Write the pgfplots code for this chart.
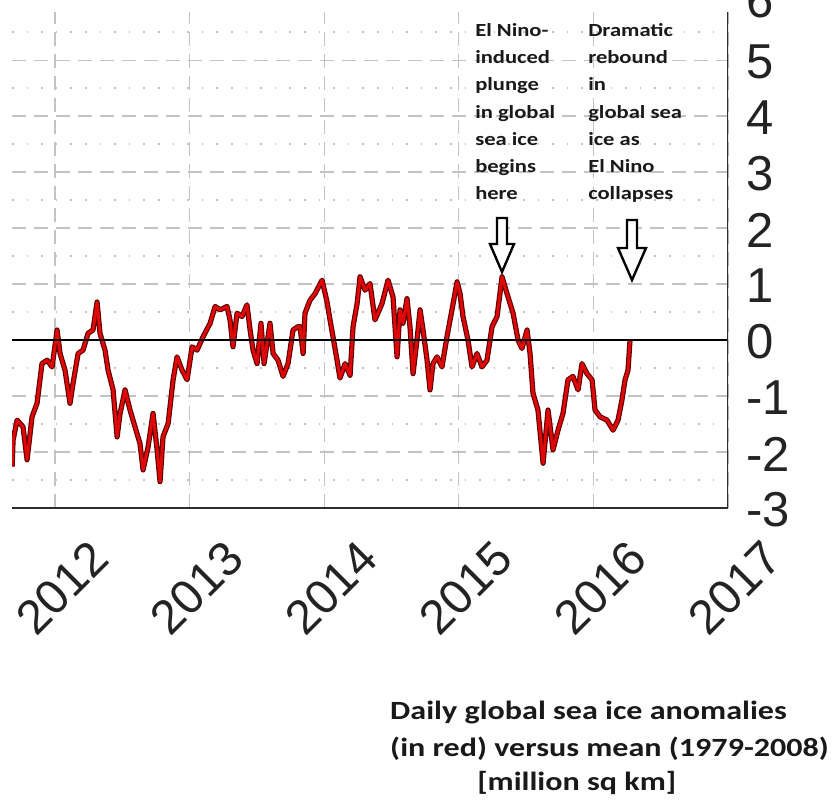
\documentclass[border=0pt]{standalone}
\usepackage{fontspec}
\setmainfont{Liberation Sans}
\newfontfamily\carlito{Carlito}
\usepackage{pgfplots}
\pgfplotsset{compat=1.18}
\usepackage{pgfplotstable}

\definecolor{icered}{RGB}{222,8,8}
\definecolor{iceedge}{RGB}{90,0,0}
\definecolor{gridgray}{RGB}{195,195,195}
\definecolor{framegray}{RGB}{45,45,45}
\definecolor{labelgray}{RGB}{35,35,35}

% daily global sea ice anomaly (million sq km)
\pgfplotstableread{
year anom
2011.681 -2.26
2011.688 -1.79
2011.718 -1.43
2011.762 -1.55
2011.792 -2.14
2011.829 -1.37
2011.866 -1.13
2011.903 -0.42
2011.941 -0.36
2011.978 -0.48
2012.015 0.18
2012.037 -0.24
2012.074 -0.54
2012.111 -1.13
2012.134 -0.77
2012.171 -0.24
2012.208 -0.18
2012.245 0.12
2012.282 0.18
2012.312 0.68
2012.334 0.12
2012.371 -0.18
2012.394 -0.54
2012.431 -0.89
2012.461 -1.73
2012.483 -1.31
2012.520 -0.89
2012.557 -1.25
2012.594 -1.55
2012.631 -1.85
2012.654 -2.32
2012.691 -1.91
2012.728 -1.31
2012.758 -1.96
2012.780 -2.53
2012.802 -1.73
2012.840 -1.49
2012.877 -0.71
2012.906 -0.30
2012.944 -0.54
2012.981 -0.71
2013.018 -0.12
2013.055 -0.18
2013.100 0.06
2013.152 0.30
2013.189 0.60
2013.226 0.54
2013.278 0.60
2013.300 0.36
2013.322 -0.12
2013.352 0.48
2013.389 0.42
2013.426 0.63
2013.449 0.18
2013.471 -0.18
2013.501 -0.42
2013.530 0.30
2013.553 -0.42
2013.597 0.30
2013.620 -0.24
2013.657 -0.36
2013.694 -0.65
2013.731 -0.42
2013.768 0.18
2013.805 0.24
2013.820 0.24
2013.843 -0.24
2013.857 0.48
2013.894 0.71
2013.932 0.83
2013.984 1.07
2014.021 0.68
2014.043 0.36
2014.065 0.06
2014.095 -0.36
2014.117 -0.68
2014.155 -0.42
2014.192 -0.63
2014.214 0.24
2014.244 0.65
2014.266 1.13
2014.303 0.89
2014.340 1.01
2014.377 0.36
2014.429 0.65
2014.474 1.07
2014.511 0.77
2014.541 -0.30
2014.563 0.54
2014.585 0.30
2014.615 0.74
2014.637 0.24
2014.660 -0.60
2014.689 0.00
2014.712 0.54
2014.734 0.18
2014.764 -0.36
2014.786 -0.89
2014.808 -0.42
2014.838 -0.30
2014.875 -0.48
2014.912 0.06
2014.949 0.54
2014.987 1.04
2015.009 0.83
2015.031 0.42
2015.068 0.00
2015.098 -0.48
2015.135 -0.24
2015.172 -0.48
2015.209 -0.36
2015.247 0.24
2015.284 0.42
2015.321 1.13
2015.358 0.83
2015.403 0.48
2015.440 0.00
2015.469 -0.15
2015.507 0.18
2015.529 -0.24
2015.551 -0.95
2015.588 -1.25
2015.626 -2.20
2015.663 -1.25
2015.700 -1.96
2015.737 -1.61
2015.774 -1.31
2015.811 -0.71
2015.848 -0.65
2015.886 -0.89
2015.915 -0.42
2015.952 -0.60
2015.990 -0.71
2016.012 -1.25
2016.049 -1.37
2016.101 -1.43
2016.146 -1.61
2016.183 -1.43
2016.212 -1.07
2016.235 -0.71
2016.257 -0.54
2016.272 0.00
}\seaice

\tikzset{
  note/.style={anchor=base west, inner sep=0pt, text=black!90,
    font=\carlito\bfseries\fontsize{18.5}{20}\selectfont, xscale=1.22},
  capt/.style={anchor=base west, inner sep=0pt, text=black!90,
    font=\carlito\bfseries\fontsize{26.3}{28}\selectfont, xscale=1.22},
  downarrow/.style={draw=black, line width=2.4pt, fill=white, line join=miter},
}

\begin{document}
\begin{tikzpicture}
\useasboundingbox (0pt,0pt) rectangle (832pt,-803pt);

\begin{axis}[
  at={(12pt,-508pt)}, anchor=south west,
  scale only axis, width=716pt, height=496pt,
  xmin=2011.68, xmax=2017, ymin=-3, ymax=5.86,
  xtick={2012,2013,2014,2015,2016,2017},
  xticklabels={2012,2013,2014,2015,2016,2017},
  ytick={-3,-2,-1,0,1,2,3,4,5},
  yticklabels={-3,-2,-1,0,1,2,3,4,5},
  minor ytick={-2.5,-1.5,-0.5,0.5,1.5,2.5,3.5,4.5,5.5},
  yticklabel pos=right,
  axis line style={draw=none},
  major tick length=0pt, minor tick length=0pt,
  xmajorgrids, ymajorgrids, yminorgrids,
  major grid style={gridgray, line width=1.3pt, dash pattern=on 14pt off 8pt},
  minor grid style={gridgray, line width=1.6pt, dash pattern=on 1.6pt off 13pt},
  xticklabel style={font=\fontsize{48}{48}\selectfont, text=labelgray,
    xshift=7pt, yshift=-80pt, rotate=45, anchor=center},
  yticklabel style={font=\fontsize{49}{49}\selectfont, text=labelgray,
    inner sep=0pt, anchor=west, xshift=18pt, yshift=-2pt},
]
\addplot[iceedge, line width=5.2pt, line join=round] table[x=year, y=anom] {\seaice};
\addplot[icered, line width=3pt, line join=round] table[x=year, y=anom] {\seaice};
\addplot[black, line width=2.6pt] coordinates {(2011.68,0) (2017,0)};
\draw[framegray, line width=3pt] (rel axis cs:0,0) -- (rel axis cs:1,0) -- (rel axis cs:1,1);
\end{axis}

% top tick label, cut by the edge of the picture as in the reference
\node[anchor=west, inner sep=0pt, text=labelgray, font=\fontsize{49}{49}\selectfont]
  at (746pt,-1pt) {6};

% annotations
\foreach \t [count=\i from 0] in {El Nino-,induced,plunge,in global,sea ice,begins,here}
  \node[note] at (475pt,{-36.7pt-\i*27.1pt}) {\t};
\foreach \t [count=\i from 0] in {Dramatic,rebound,in,global sea,ice as,El Nino,collapses}
  \node[note] at (588pt,{-36.7pt-\i*27.1pt}) {\t};

\draw[downarrow] (497pt,-218pt) -- (507pt,-218pt) -- (507pt,-244pt) -- (514pt,-244pt)
  -- (502pt,-272pt) -- (490pt,-244pt) -- (497pt,-244pt) -- cycle;
\draw[downarrow] (627pt,-220pt) -- (637pt,-220pt) -- (637pt,-248pt) -- (646pt,-248pt)
  -- (632pt,-280pt) -- (618pt,-248pt) -- (627pt,-248pt) -- cycle;

% caption
\node[capt] at (390pt,-719.3pt) {Daily global sea ice anomalies};
\node[capt] at (390pt,-756.5pt) {(in red) versus mean (1979-2008)};
\node[capt] at (477pt,-790pt) {[million sq km]};
\end{tikzpicture}
\end{document}
